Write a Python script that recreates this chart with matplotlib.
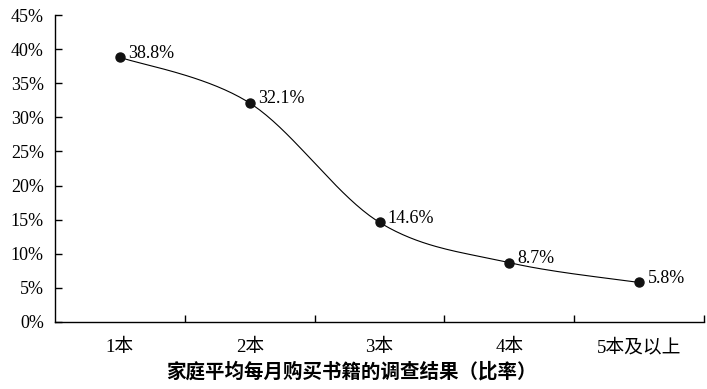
import numpy as np
import matplotlib
matplotlib.use("Agg")
import matplotlib.pyplot as plt
from matplotlib.ticker import FixedLocator, NullFormatter

# data
categories = ["1本", "2本", "3本", "4本", "5本及以上"]
values = [38.8, 32.1, 14.6, 8.7, 5.8]
labels = ["38.8%", "32.1%", "14.6%", "8.7%", "5.8%"]
title = "家庭平均每月购买书籍的调查结果（比率）"

serif = ["Liberation Serif", "Noto Sans CJK SC"]


# smooth the line like a spreadsheet "smoothed line" (cubic bezier, catmull-rom tangents)
def smooth(xs, ys, n=40):
    pts = np.column_stack([xs, ys]).astype(float)
    out = []
    for i in range(len(pts) - 1):
        p0 = pts[max(i - 1, 0)]
        p1 = pts[i]
        p2 = pts[i + 1]
        p3 = pts[min(i + 2, len(pts) - 1)]
        c1 = p1 + (p2 - p0) / 6
        c2 = p2 - (p3 - p1) / 6
        t = np.linspace(0, 1, n)[:, None]
        seg = ((1 - t) ** 3) * p1 + 3 * ((1 - t) ** 2) * t * c1 + 3 * (1 - t) * t ** 2 * c2 + t ** 3 * p2
        out.append(seg if i == 0 else seg[1:])
    out = np.vstack(out)
    return out[:, 0], out[:, 1]


x = np.arange(len(categories))
fig = plt.figure(figsize=(7.07, 3.89), dpi=100)
ax = fig.add_axes([55 / 707, 1 - 322 / 389, 649 / 707, 307 / 389])

sx, sy = smooth(x, values)
ax.plot(sx, sy, color="black", linewidth=0.8)
ax.plot(x, values, "o", color="#111111", markersize=6.5)

for xi, v, lab in zip(x, values, labels):
    ax.annotate(lab, (xi, v), xytext=(6, 3), textcoords="offset points",
                va="center", ha="left", fontsize=13, family=serif)

ax.set_xlim(-0.5, len(categories) - 0.5)
ax.set_ylim(0, 45)
ax.set_yticks(np.arange(0, 46, 5))
ax.set_yticklabels([f"{v}%" for v in range(0, 46, 5)], family=serif, fontsize=13)
ax.set_xticks(x)
ax.set_xticklabels(categories, family=serif, fontsize=13.5)
# tick marks sit on the category boundaries
ax.xaxis.set_minor_locator(FixedLocator(np.arange(0.5, len(categories), 1)))
ax.xaxis.set_minor_formatter(NullFormatter())

ax.tick_params(axis="y", direction="in", length=5, width=1, pad=8)
ax.tick_params(axis="x", which="major", length=0, pad=12)
ax.tick_params(axis="x", which="minor", direction="in", length=5, width=1)

for side in ["top", "right"]:
    ax.spines[side].set_visible(False)
for side in ["left", "bottom"]:
    ax.spines[side].set_linewidth(1)

fig.text(351 / 707, 1 - 372 / 389, title, ha="center", va="center",
         fontsize=14, family=["Noto Sans CJK SC"], weight="bold")

fig.savefig("out.png", dpi=100)
